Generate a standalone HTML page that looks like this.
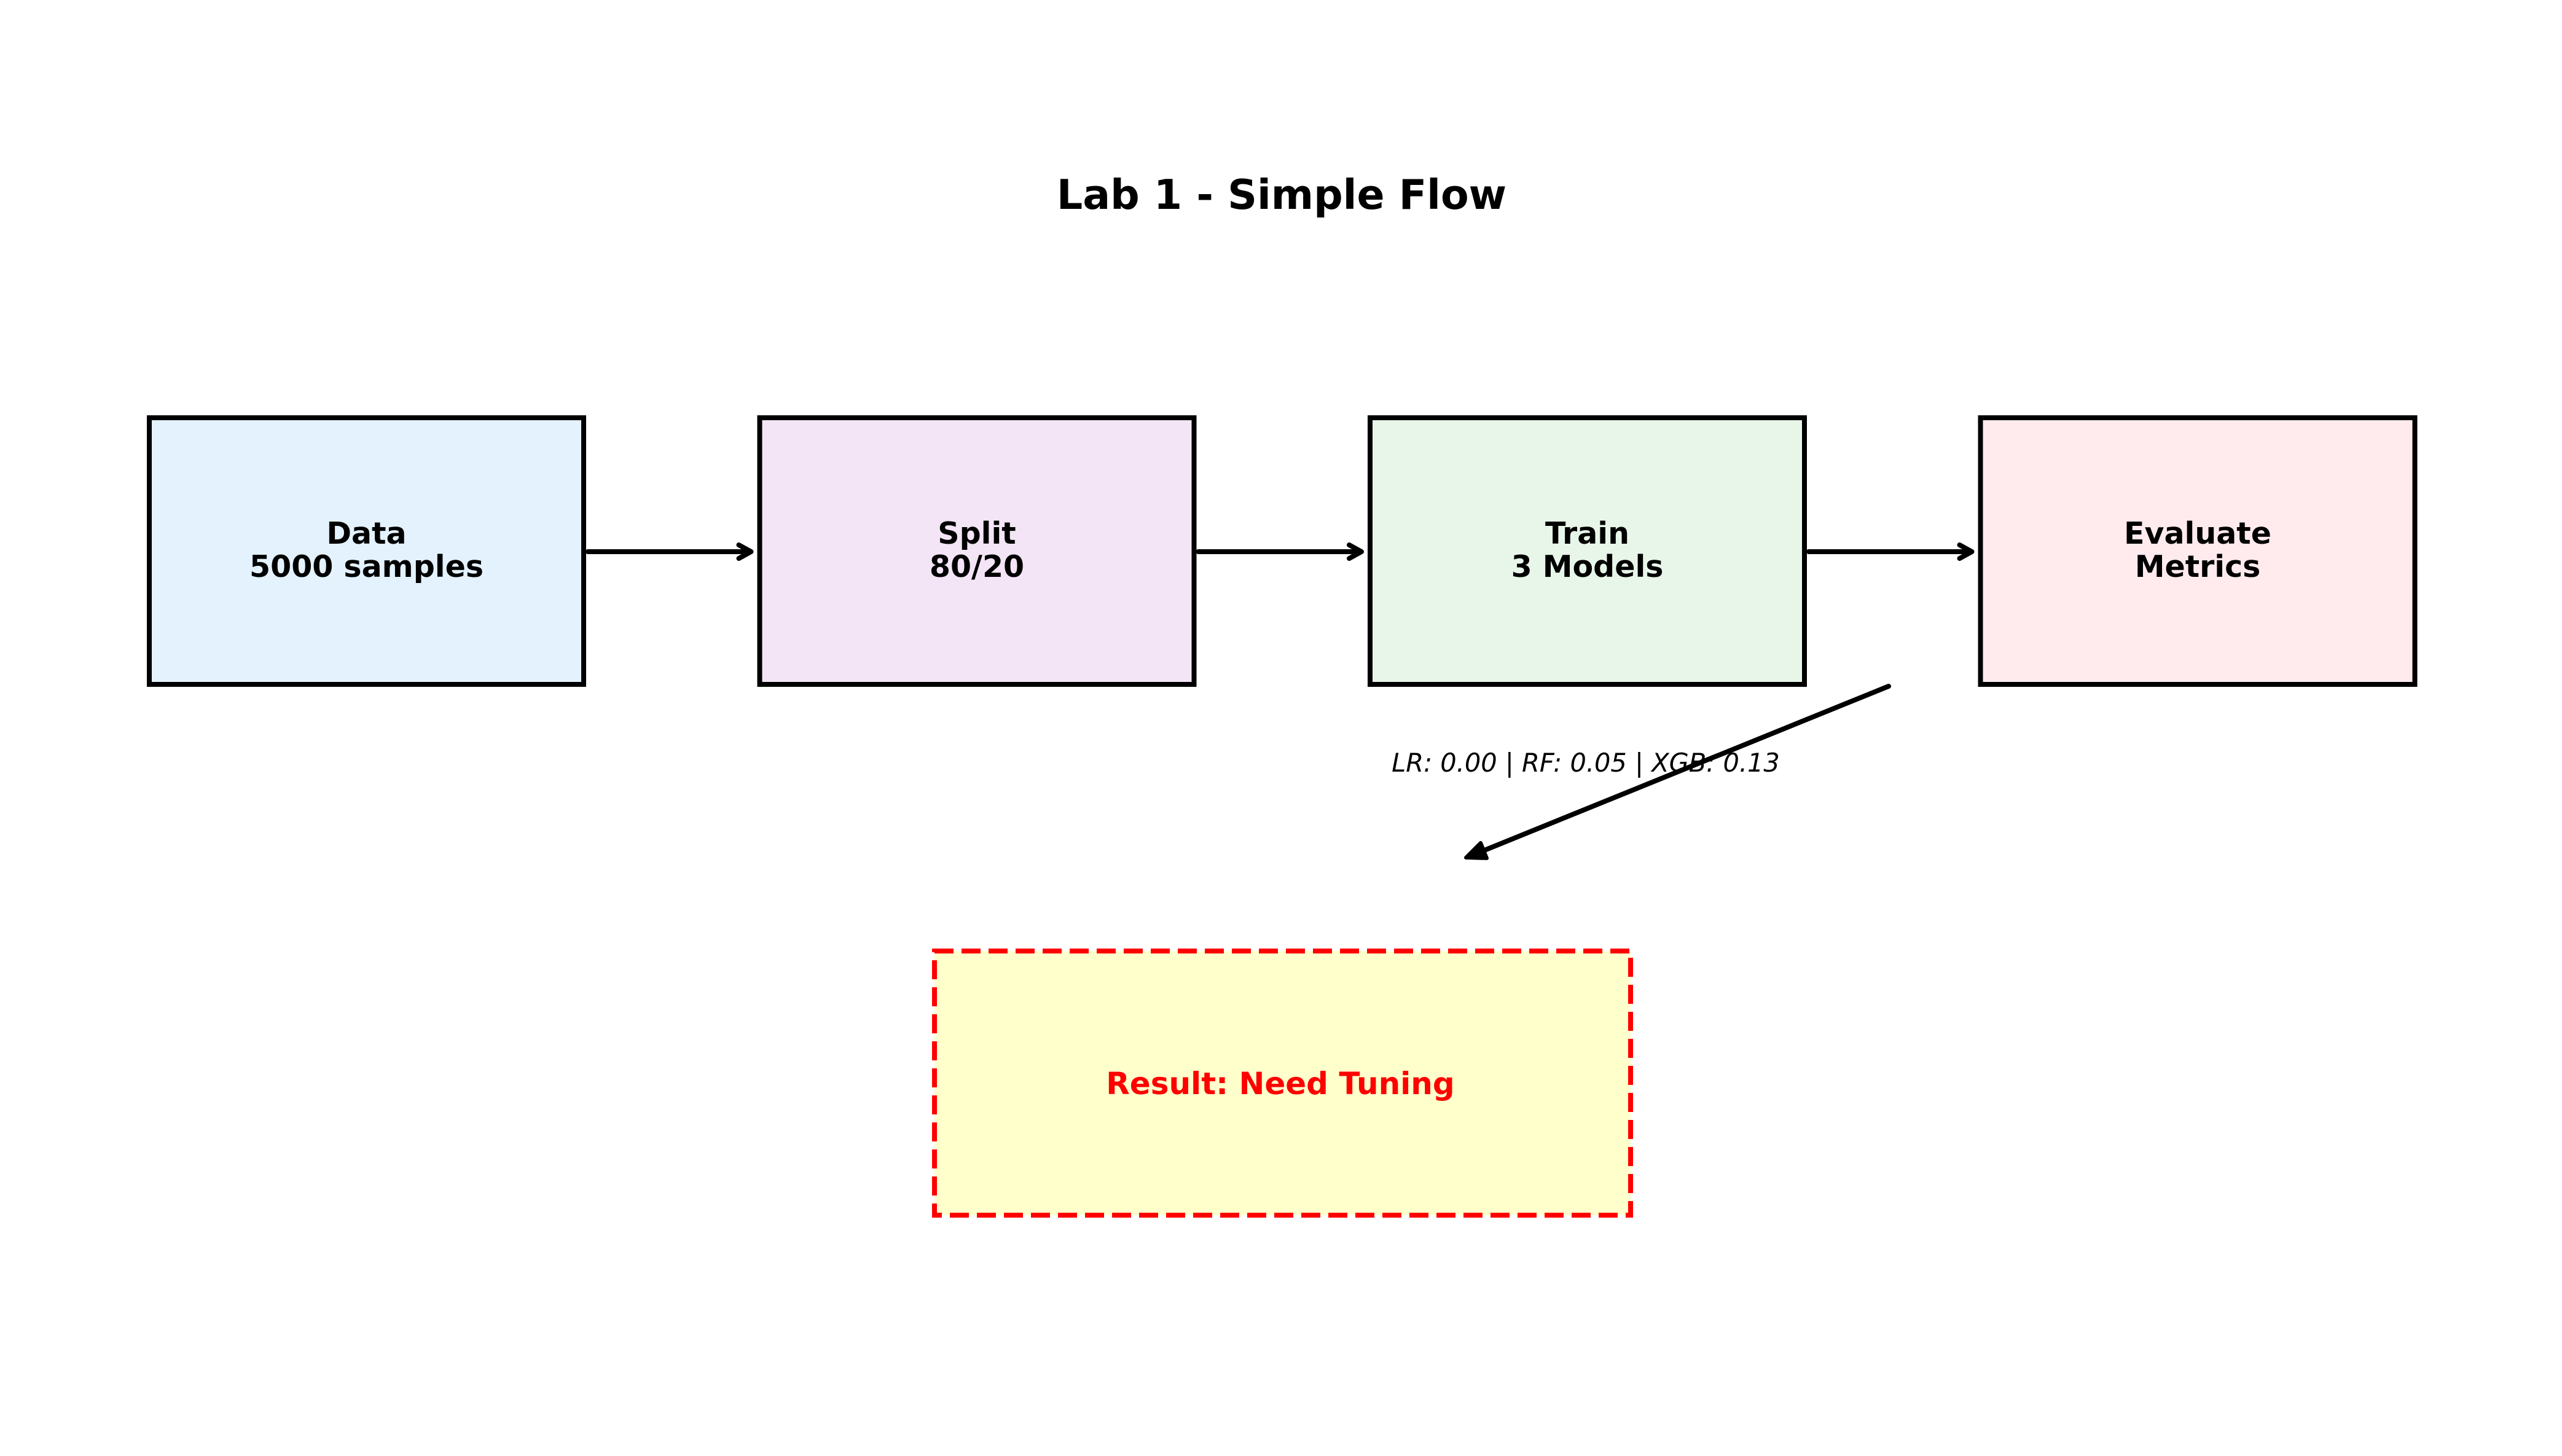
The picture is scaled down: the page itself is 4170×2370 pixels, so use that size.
<!DOCTYPE html>
<html><head><meta charset="utf-8"><style>
html,body{margin:0;padding:0;background:#fff;}
svg{display:block;}
text{font-family:"DejaVu Sans","Liberation Sans",sans-serif;}
</style></head><body>
<svg width="4170" height="2370" viewBox="0 0 4170 2370" xmlns="http://www.w3.org/2000/svg">
<rect x="0" y="0" width="4170" height="2370" fill="#fff"/>
<text x="2086" y="340" text-anchor="middle" font-size="66.5" font-weight="bold">Lab 1 - Simple Flow</text>
<g id="boxes"></g>
<g id="arrows"></g>
<line x1="3074" y1="1117" x2="2394" y2="1393" stroke="#000" stroke-width="8" stroke-linecap="round"/>
<polygon points="2410,1372 2386,1396 2420,1397" fill="#000" stroke="#000" stroke-width="6" stroke-linejoin="round"/>
<text x="2581" y="1256" text-anchor="middle" font-size="41.5" font-style="italic">LR: 0.00 | RF: 0.05 | XGB: 0.13</text>
<rect x="1521" y="1548" width="1133" height="430" fill="#ffffcc" stroke="#ff0000" stroke-width="8" stroke-dasharray="31,13"/>
<text x="2084" y="1781" text-anchor="middle" font-size="50" font-weight="bold" fill="#ff0000">Result: Need Tuning</text>
</svg>
<script>
const stepLines1 = ["Data","Split","Train","Evaluate"];
const stepLines2 = ["5000 samples","80/20","3 Models","Metrics"];
const stepColors = ["#e3f2fd","#f3e5f5","#e8f5e9","#ffebee"];
const NS="http://www.w3.org/2000/svg";
const left0=243, pitch=993.5, boxW=707, boxTop=680, boxH=434, midY=898;
const gB=document.getElementById('boxes'), gA=document.getElementById('arrows');
stepLines1.forEach((t,i)=>{
  const x=left0+pitch*i;
  const r=document.createElementNS(NS,'rect');
  r.setAttribute('x',x);r.setAttribute('y',boxTop);r.setAttribute('width',boxW);r.setAttribute('height',boxH);
  r.setAttribute('fill',stepColors[i]);r.setAttribute('stroke','#000');r.setAttribute('stroke-width','8');
  
  
  gB.appendChild(r);
  [t,stepLines2[i]].forEach((s,j)=>{
    const tx=document.createElementNS(NS,'text');
    tx.setAttribute('x',x+boxW/2);tx.setAttribute('y',midY-13+j*54);
    tx.setAttribute('text-anchor','middle');tx.setAttribute('font-size','49');tx.setAttribute('font-weight','bold');
    tx.textContent=s;
    
    
    gB.appendChild(tx);
  });
  if(i<stepLines1.length-1){
    const x1=x+boxW+7, x2=left0+pitch*(i+1)-14;
    const l=document.createElementNS(NS,'line');
    l.setAttribute('x1',x1);l.setAttribute('y1',midY);l.setAttribute('x2',x2-4);l.setAttribute('y2',midY);
    l.setAttribute('stroke','#000');l.setAttribute('stroke-width','8');l.setAttribute('stroke-linecap','round');
    
    
    gA.appendChild(l);
    const p=document.createElementNS(NS,'polyline');
    p.setAttribute('points',`${x2-20},${midY-11} ${x2},${midY} ${x2-20},${midY+11}`);
    p.setAttribute('fill','none');p.setAttribute('stroke','#000');p.setAttribute('stroke-width','8');
    p.setAttribute('stroke-linecap','round');p.setAttribute('stroke-linejoin','round');
    
    
    gA.appendChild(p);
  }
});
</script>
</body></html>
